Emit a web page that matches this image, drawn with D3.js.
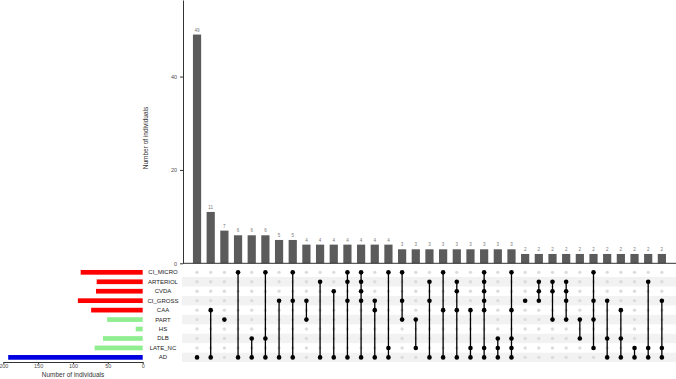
<!DOCTYPE html>
<html>
<head>
<meta charset="utf-8">
<script src="https://cdn.jsdelivr.net/npm/d3@7"></script>
<style>
  body { margin: 0; background: #fff; }
  #chart { width: 676px; height: 379px; }
  text { font-family: "Liberation Sans", Arial, sans-serif; }
  .axis text { font-size: 5.5px; fill: #4d4d4d; }
  .axis path, .axis line { stroke: #333; }
</style>
</head>
<body>
<div id="chart"></div>
<script>

// sets, top row to bottom row
const sets = ["CI_MICRO", "ARTERIOL", "CVDA", "CI_GROSS", "CAA", "PART", "HS", "DLB", "LATE_NC", "AD"];
const setSizes = [89, 66, 67, 93, 74, 51, 10, 57, 69, 193];
const setColors = ["#ff0000", "#ff0000", "#ff0000", "#ff0000", "#ff0000",
                   "#90ee90", "#90ee90", "#90ee90", "#90ee90", "#0000e0"];

// intersections (ordered by size)
const counts = [49, 11, 7, 6, 6, 6, 5, 5, 4, 4, 4, 4, 4, 4, 4, 3, 3, 3, 3, 3, 3, 3, 3, 3,
                2, 2, 2, 2, 2, 2, 2, 2, 2, 2, 2];
const members = [
    ["AD"],
    ["CAA", "AD"],
    ["PART"],
    ["CI_MICRO", "AD"],
    ["DLB", "AD"],
    ["CI_MICRO", "DLB", "AD"],
    ["CI_GROSS", "AD"],
    ["CI_MICRO", "CI_GROSS", "AD"],
    ["CI_GROSS", "PART"],
    ["ARTERIOL", "AD"],
    ["CVDA", "AD"],
    ["CI_MICRO", "ARTERIOL", "CI_GROSS", "AD"],
    ["CI_MICRO", "ARTERIOL", "CVDA", "CI_GROSS", "AD"],
    ["CI_GROSS", "CAA", "AD"],
    ["CI_MICRO", "LATE_NC", "AD"],
    ["CI_MICRO", "CI_GROSS", "PART"],
    ["PART", "LATE_NC"],
    ["ARTERIOL", "CI_GROSS", "AD"],
    ["CI_MICRO", "CAA", "AD"],
    ["ARTERIOL", "CVDA", "CAA", "AD"],
    ["CAA", "LATE_NC", "AD"],
    ["CI_MICRO", "ARTERIOL", "CVDA", "CI_GROSS", "CAA", "LATE_NC", "AD"],
    ["DLB", "LATE_NC", "AD"],
    ["CI_MICRO", "CAA", "DLB", "LATE_NC", "AD"],
    ["CI_GROSS"],
    ["ARTERIOL", "CVDA", "CI_GROSS"],
    ["ARTERIOL", "CVDA", "PART"],
    ["ARTERIOL", "CVDA", "CI_GROSS", "PART"],
    ["PART", "DLB"],
    ["CI_MICRO", "CI_GROSS", "PART", "LATE_NC"],
    ["CI_GROSS", "DLB", "AD"],
    ["CAA", "DLB", "AD"],
    ["LATE_NC", "AD"],
    ["ARTERIOL", "LATE_NC", "AD"],
    ["CI_GROSS", "LATE_NC", "AD"]
];
const barTicks = [0, 20, 40];
const sizeTicks = [0, 50, 100, 150, 200];

const width = 676, height = 379;
const svg = d3.select("#chart").append("svg")
    .attr("width", width).attr("height", height);

const cols = d3.range(counts.length);

/* SCALES */
const xScale = d3.scaleBand().domain(cols).range([190.2, 668.7])
    .paddingInner(0.4).paddingOuter(0.2);
const yScale = d3.scaleLinear().domain([0, 56.4]).range([263.3, 0]);
const rowScale = d3.scaleBand().domain(sets).range([267.6, 362.1]);
const sizeScale = d3.scaleLinear().domain([0, 200]).range([142.7, 3.3]);

const rowY = s => rowScale(s) + rowScale.bandwidth() / 2;
const colX = i => xScale(i) + xScale.bandwidth() / 2;

/* INTERSECTION BARS */
svg.selectAll(".bar").data(cols).enter().append("rect")
    .attr("x", d => xScale(d))
    .attr("y", d => yScale(counts[d]))
    .attr("width", xScale.bandwidth())
    .attr("height", d => yScale(0) - yScale(counts[d]))
    .attr("fill", "#5b5b5b");

svg.selectAll(".barLabel").data(cols).enter().append("text")
    .attr("x", d => colX(d))
    .attr("y", d => yScale(counts[d]) - 3)
    .attr("text-anchor", "middle")
    .style("font-size", "4.5px")
    .attr("fill", "#777")
    .text(d => counts[d]);

svg.append("g").attr("class", "axis")
    .attr("transform", "translate(183,0)")
    .call(d3.axisLeft(yScale).tickValues(barTicks).tickSize(3).tickSizeOuter(0));

svg.append("line")
    .attr("x1", 183).attr("x2", width)
    .attr("y1", yScale(0)).attr("y2", yScale(0))
    .attr("stroke", "#333");

svg.append("text")
    .attr("transform", "rotate(-90)")
    .attr("x", -138).attr("y", 148)
    .attr("text-anchor", "middle")
    .style("font-size", "6.5px")
    .attr("fill", "#333")
    .text("Number of individuals");

/* MATRIX */
svg.selectAll(".stripe").data(sets.filter((s, i) => i % 2 == 1)).enter().append("rect")
    .attr("x", 182).attr("width", width - 182)
    .attr("y", d => rowScale(d))
    .attr("height", rowScale.bandwidth())
    .attr("fill", "#f2f2f2");

cols.forEach(function(c) {
    const g = svg.append("g");
    g.selectAll(".empty").data(sets.filter(s => !members[c].includes(s))).enter().append("circle")
        .attr("cx", colX(c))
        .attr("cy", d => rowY(d))
        .attr("r", 1.7)
        .attr("fill", "#dcdcdc");
    if (members[c].length > 1) {
        const ys = members[c].map(rowY);
        g.append("line")
            .attr("x1", colX(c)).attr("x2", colX(c))
            .attr("y1", d3.min(ys)).attr("y2", d3.max(ys))
            .attr("stroke", "#000").attr("stroke-width", 1.3);
    }
    g.selectAll(".full").data(members[c]).enter().append("circle")
        .attr("cx", colX(c))
        .attr("cy", d => rowY(d))
        .attr("r", 2.3)
        .attr("fill", "#000");
});

svg.selectAll(".setLabel").data(sets).enter().append("text")
    .attr("x", 163)
    .attr("y", d => rowY(d) + 2)
    .attr("text-anchor", "middle")
    .style("font-size", "6px")
    .attr("fill", "#222")
    .text(d => d);

/* SET SIZE BARS */
svg.selectAll(".setBar").data(sets).enter().append("rect")
    .attr("x", (d, i) => sizeScale(setSizes[i]))
    .attr("y", d => rowY(d) - 2.35)
    .attr("width", (d, i) => sizeScale(0) - sizeScale(setSizes[i]))
    .attr("height", 4.7)
    .attr("fill", (d, i) => setColors[i]);

svg.append("g").attr("class", "axis")
    .attr("transform", "translate(0,362)")
    .call(d3.axisBottom(sizeScale).tickValues(sizeTicks).tickSize(2).tickPadding(0.5).tickSizeOuter(0));

svg.append("text")
    .attr("x", 73).attr("y", 377)
    .attr("text-anchor", "middle")
    .style("font-size", "6.5px")
    .attr("fill", "#333")
    .text("Number of individuals");

</script>
</body>
</html>
